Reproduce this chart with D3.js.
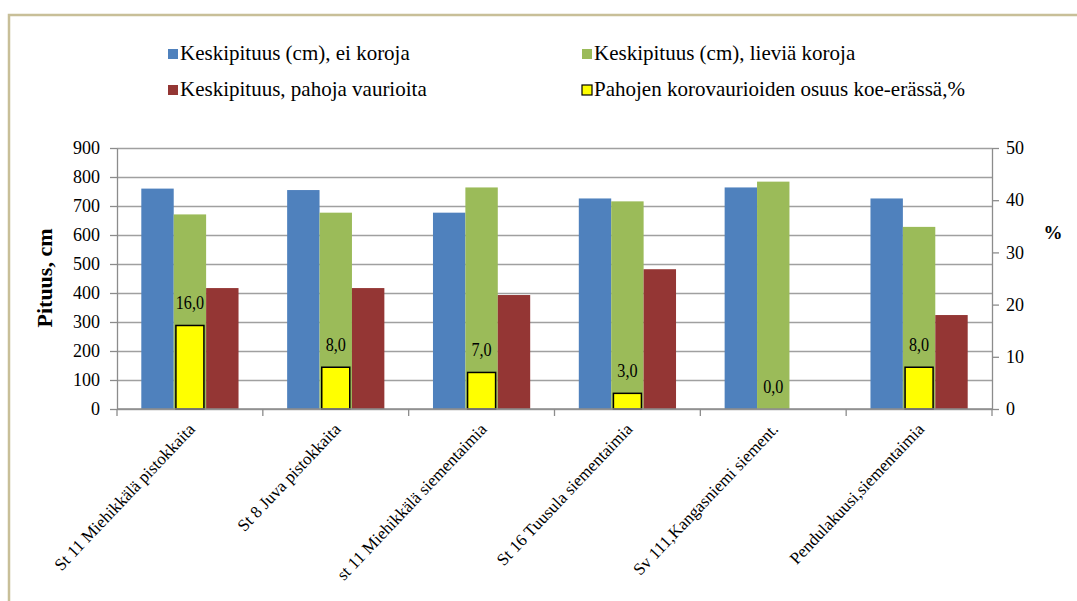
<!DOCTYPE html>
<html><head><meta charset="utf-8">
<script src="https://cdn.jsdelivr.net/npm/d3@7/dist/d3.min.js"></script>
<style>
html,body{margin:0;padding:0;background:#fff;}
svg{display:block;}
text{font-family:"Liberation Serif","Times New Roman",serif;fill:#000;}
</style></head>
<body>
<svg id="chart" width="1077" height="601"></svg>
<script>
const categories = ["St 11 Miehikkälä pistokkaita","St 8 Juva pistokkaita","st 11 Miehikkälä siementaimia","St 16 Tuusula siementaimia","Sv 111,Kangasniemi siement.","Pendulakuusi,siementaimia"];
const seriesNames = ["Keskipituus (cm), ei koroja","Keskipituus (cm), lieviä koroja","Keskipituus, pahoja vaurioita","Pahojen korovaurioiden osuus koe-erässä,%"];
const eiKoroja = [760,755,677,726,764,726];
const lieviaKoroja = [671,677,764,716,784,628];
const pahojaVaurioita = [417,417,393,482,0,324];
const osuusPct = [16.0,8.0,7.0,3.0,0.0,8.0];
const leftTicks = [0,100,200,300,400,500,600,700,800,900];
const rightTicks = [0,10,20,30,40,50];
const colors = ["#4f81bd","#9bbb59","#943634","#ffff00"];

const svg = d3.select("#chart");
const L = 117, R = 992, T = 148, B = 409;

// frame
svg.append("path").attr("d","M9,601 L9,15 L1077,15")
  .attr("fill","none").attr("stroke","#c8bf98").attr("stroke-width",2.5);

const x = d3.scaleBand().domain(categories).range([L,R]).padding(0);
const xs = d3.scaleBand().domain([0,1,2]).range([0,x.bandwidth()]).paddingInner(0).paddingOuter(0.75);
const y = d3.scaleLinear().domain([0,900]).range([B,T]);
const y2 = d3.scaleLinear().domain([0,50]).range([B,T]);

// gridlines
const grid = svg.append("g").attr("transform",`translate(${L},0)`)
  .call(d3.axisLeft(y).tickValues(leftTicks).tickSize(-(R-L)).tickFormat(""));
grid.select(".domain").remove();
grid.selectAll("line").attr("stroke","#a0a0a0").attr("stroke-width",1.3);

// bars
const primary = [eiKoroja, lieviaKoroja, pahojaVaurioita];
primary.forEach((vals,si)=>{
  svg.append("g").selectAll("rect").data(vals).join("rect")
    .attr("x",(d,i)=>x(categories[i])+xs(si))
    .attr("y",d=>y(d))
    .attr("width",xs.bandwidth())
    .attr("height",d=>B-y(d))
    .attr("fill",colors[si]);
});
const yw = x.bandwidth()*0.192;
svg.append("g").selectAll("rect").data(osuusPct).join("rect")
  .attr("x",(d,i)=>x(categories[i])+x.bandwidth()/2-yw/2)
  .attr("y",d=>y2(d))
  .attr("width",yw)
  .attr("height",d=>B-y2(d))
  .attr("fill",d=>d>0?colors[3]:"none")
  .attr("stroke",d=>d>0?"#000":"none").attr("stroke-width",1.5);

// data labels
const fmt = d=>d3.format(".1f")(d).replace(".",",");
svg.append("g").selectAll("text").data(osuusPct).join("text")
  .attr("transform",(d,i)=>`translate(${x(categories[i])+x.bandwidth()/2},${y2(d)-16}) scale(0.85,1)`)
  .attr("text-anchor","middle").style("font-size","19px")
  .text(d=>fmt(d));

// left axis
const ax = svg.append("g").attr("transform",`translate(${L},0)`)
  .call(d3.axisLeft(y).tickValues(leftTicks).tickSize(7).tickPadding(10).tickSizeOuter(0));
ax.select(".domain").attr("stroke","#8c8c8c").attr("stroke-width",1.3);
ax.selectAll("line").attr("stroke","#8c8c8c").attr("stroke-width",1.3);
ax.selectAll("text").style("font-size","18px").style("font-family","Liberation Serif");

// right axis
const ax2 = svg.append("g").attr("transform",`translate(${R},0)`)
  .call(d3.axisRight(y2).tickValues(rightTicks).tickSize(7).tickPadding(7).tickSizeOuter(0));
ax2.select(".domain").attr("stroke","#8c8c8c").attr("stroke-width",1.3);
ax2.selectAll("line").attr("stroke","#8c8c8c").attr("stroke-width",1.3);
ax2.selectAll("text").style("font-size","18px").style("font-family","Liberation Serif");

// category axis
const cx = svg.append("g");
cx.append("line").attr("x1",L).attr("x2",R).attr("y1",B).attr("y2",B)
  .attr("stroke","#8c8c8c").attr("stroke-width",1.3);
const bounds = categories.map(c=>x(c)).concat([x.range()[1]]);
cx.selectAll("line.t").data(bounds).join("line").attr("class","t")
  .attr("x1",d=>d).attr("x2",d=>d).attr("y1",B).attr("y2",B+7)
  .attr("stroke","#8c8c8c").attr("stroke-width",1.3);
cx.selectAll("text").data(categories).join("text")
  .attr("transform",c=>`translate(${x(c)+x.bandwidth()/2+6},${B+21}) rotate(-46.5)`)
  .attr("text-anchor","end").style("font-size","17px")
  .text(c=>c);

// axis titles
svg.append("text").attr("transform","translate(52,278) rotate(-90)")
  .attr("text-anchor","middle").style("font-size","22px").style("font-weight","bold")
  .text("Pituus, cm");
svg.append("text").attr("x",1053).attr("y",239)
  .attr("text-anchor","middle").style("font-size","19px").style("font-weight","bold")
  .text("%");

// legend
const legendPos = [[168,60],[582,60],[168,96],[582,96]];
const leg = svg.append("g").selectAll("g").data(seriesNames).join("g")
  .attr("transform",(d,i)=>`translate(${legendPos[i][0]},${legendPos[i][1]})`);
leg.append("rect").attr("x",0).attr("y",-11).attr("width",10).attr("height",10)
  .attr("fill",(d,i)=>colors[i])
  .attr("stroke",(d,i)=>i===3?"#000":"none").attr("stroke-width",1.2);
leg.append("text").attr("x",12).attr("y",0).style("font-size","21px").text(d=>d);
</script>
</body></html>
